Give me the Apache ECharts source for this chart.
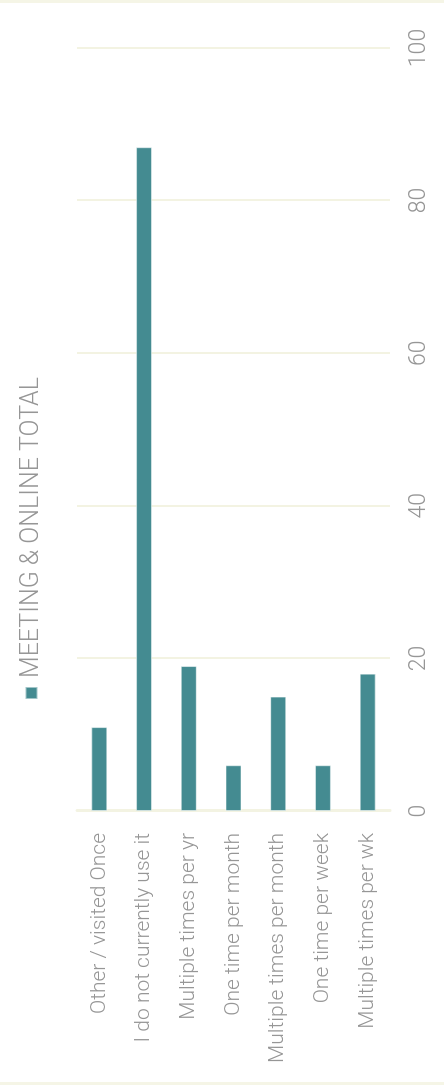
<!DOCTYPE html>
<html>
<head>
<meta charset="utf-8">
<script src="https://cdn.jsdelivr.net/npm/echarts@6/dist/echarts.min.js"></script>
<style>
  html, body { margin: 0; padding: 0; background: #fff; }
  body { width: 444px; height: 1091px; position: relative; overflow: hidden; }
  .rule { position: absolute; left: 0; width: 444px; height: 3px; background: #f5f5e6; }
  #chart {
    position: absolute; left: 0; top: 0;
    width: 1091px; height: 444px;
    transform-origin: 0 0;
    transform: translate(0, 1091px) rotate(-90deg);
  }
</style>
</head>
<body>
<div class="rule" style="top:0"></div>
<div class="rule" style="top:1082px"></div>
<div id="chart"></div>
<script>
'use strict';

var categories = [
  'Other / visited Once',
  'I do not currently use it',
  'Multiple times per yr',
  'One time per month',
  'Multiple times per month',
  'One time per week',
  'Multiple times per wk'
];
var totals = [11, 87, 19, 6, 15, 6, 18];
var seriesName = 'MEETING & ONLINE TOTAL';

var font = 'Roboto, "Liberation Sans", sans-serif';
var grey = '#969696';
var cream = '#f3f3e2';

var chart = echarts.init(document.getElementById('chart'));
chart.setOption({
  animation: false,
  textStyle: { fontFamily: font },
  legend: {
    data: [seriesName],
    left: 386,
    top: 14,
    itemWidth: 12,
    itemHeight: 12,
    icon: 'rect',
    textStyle: { color: grey, fontSize: 25, fontWeight: 300, padding: [0, 0, 0, 4] }
  },
  grid: { left: 280, right: 48, top: 77, bottom: 54 },
  xAxis: {
    type: 'value',
    min: 0,
    max: 100,
    interval: 20,
    axisLine: { show: false },
    axisTick: { show: false },
    axisLabel: { color: grey, fontSize: 23, fontWeight: 300, margin: 18 },
    splitLine: { lineStyle: { color: cream, width: 2 } }
  },
  yAxis: {
    type: 'category',
    inverse: true,
    data: categories,
    axisLine: { lineStyle: { color: cream, width: 3 } },
    axisTick: { show: false },
    axisLabel: { color: grey, fontSize: 21, fontWeight: 300, margin: 22 }
  },
  series: [{
    name: seriesName,
    type: 'bar',
    data: totals,
    barWidth: 16,
    itemStyle: { color: '#448b91', borderColor: 'rgba(255,255,255,0.5)', borderWidth: 1 }
  }]
});
</script>
</body>
</html>
